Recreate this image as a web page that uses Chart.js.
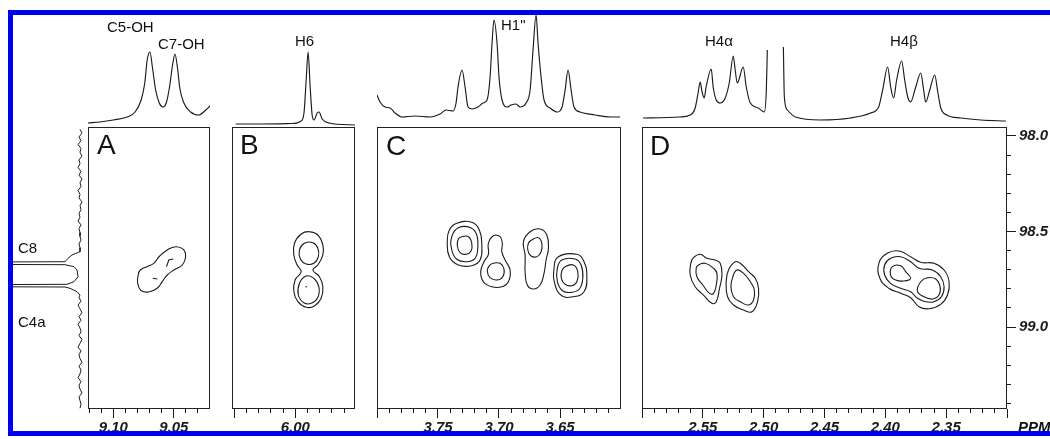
<!DOCTYPE html>
<html lang="en">
<head>
<meta charset="UTF-8">
<title>HMBC C8 / C4a</title>
<script src="https://cdn.jsdelivr.net/npm/chart.js"></script>
<style>
  body { margin: 0; background: #fff; width: 1050px; height: 439px; overflow: hidden; position: relative;
         font-family: "Liberation Sans", Arial, sans-serif; color: #111; }
  canvas { position: absolute; }
  .lbl { position: absolute; font-size: 15px; line-height: 15px; white-space: nowrap; }
  .pan { position: absolute; font-size: 28px; line-height: 28px; }
  .ppm { position: absolute; font: italic bold 15px/15px "Liberation Sans", Arial, sans-serif; }
  #frame { position: absolute; left: 8px; top: 10px; width: 1100px; height: 416px; border: 5px solid #0000f0; }
</style>
</head>
<body>
<canvas id="topA" width="122" height="127" style="left:88px;top:0"></canvas>
<canvas id="topB" width="123" height="127" style="left:232px;top:0"></canvas>
<canvas id="topC" width="244" height="127" style="left:377px;top:0"></canvas>
<canvas id="topD" width="365" height="127" style="left:642px;top:0"></canvas>
<canvas id="c13" width="75" height="282" style="left:13px;top:127px"></canvas>
<canvas id="panA" width="122" height="312" style="left:88px;top:127px"></canvas>
<canvas id="panB" width="123" height="312" style="left:232px;top:127px"></canvas>
<canvas id="panC" width="244" height="312" style="left:377px;top:127px"></canvas>
<canvas id="panD" width="425" height="312" style="left:642px;top:127px"></canvas>

<div class="lbl" style="left:107px;top:19px">C5-OH</div>
<div class="lbl" style="left:158px;top:36px">C7-OH</div>
<div class="lbl" style="left:295px;top:33px">H6</div>
<div class="lbl" style="left:501px;top:17px">H1"</div>
<div class="lbl" style="left:705px;top:33px">H4&alpha;</div>
<div class="lbl" style="left:890px;top:33px">H4&beta;</div>
<div class="lbl" style="left:18px;top:240px">C8</div>
<div class="lbl" style="left:18px;top:314px">C4a</div>
<div class="pan" style="left:97px;top:131px">A</div>
<div class="pan" style="left:240px;top:131px">B</div>
<div class="pan" style="left:386px;top:132px">C</div>
<div class="pan" style="left:650px;top:132px">D</div>
<div class="ppm" style="left:1018px;top:419px">PPM</div>
<div id="frame"></div>

<script>
// ---- 1H traces on top (ppm, intensity) ----
const hA_ppm = [9.121, 9.111, 9.100, 9.0885, 9.082, 9.077, 9.074, 9.072, 9.0697, 9.0677, 9.065, 9.062, 9.059, 9.056, 9.0535, 9.051, 9.049, 9.047, 9.045, 9.042, 9.036, 9.0293, 9.0235, 9.020];
const hA_int = [4, 5, 7, 10, 15, 27, 44, 67, 75, 60, 37, 24, 20, 25, 40, 62, 73, 60, 39, 25, 15, 12, 17, 21];

const hB_ppm = [6.049, 6.028, 6.0034, 5.9952, 5.9928, 5.9911, 5.9895, 5.9879, 5.9862, 5.9846, 5.9821, 5.9805, 5.978, 5.9723, 5.951];
const hB_int = [3, 3, 3.5, 6, 15, 47, 75, 42, 12, 7, 14, 15, 8, 4, 2];

const hC_ppm = [3.800, 3.7975, 3.7934, 3.7893, 3.7852, 3.7795, 3.7688, 3.7565, 3.7483, 3.7434, 3.7377, 3.7352, 3.7336, 3.7303, 3.7278, 3.7254, 3.7221, 3.7172, 3.7131, 3.7098, 3.7073, 3.7057, 3.7041, 3.7016, 3.7000, 3.6975, 3.6934, 3.6901, 3.6860, 3.6827, 3.6778, 3.6745, 3.6721, 3.6696, 3.6680, 3.6655, 3.6631, 3.6581, 3.6524, 3.6483, 3.6458, 3.6434, 3.6409, 3.6385, 3.6335, 3.6212, 3.6089, 3.6007];
const hC_int = [32, 25, 20, 19, 14, 10, 11, 10, 13, 17, 16, 24, 40, 57, 40, 20, 18, 20, 24, 27, 50, 84, 107, 84, 50, 27, 20, 22, 23, 20, 24, 37, 77, 112, 84, 50, 27, 19, 15, 20, 37, 57, 37, 20, 15, 12, 10, 10];

// solvent line near 2.49 is cut off (null = gap)
const hD_ppm = [2.5992, 2.5687, 2.5604, 2.5563, 2.5539, 2.5522, 2.5506, 2.5489, 2.5473, 2.5431, 2.5415, 2.5390, 2.5357, 2.5316, 2.5283, 2.5250, 2.5234, 2.5217, 2.5168, 2.5143, 2.5110, 2.5044, 2.4995, 2.4978, 2.4970, 2.490, 2.4838, 2.4830, 2.4805, 2.4739, 2.4533, 2.4286, 2.4121, 2.4055, 2.4022, 2.3981, 2.3956, 2.3932, 2.3907, 2.3866, 2.3841, 2.3816, 2.3792, 2.3750, 2.3709, 2.3685, 2.3668, 2.3635, 2.3594, 2.3569, 2.3544, 2.3495, 2.3380, 2.3215, 2.3009];
const hD_int = [9, 10, 12, 19, 34, 45, 35, 29, 40, 58, 40, 27, 24, 29, 44, 71, 57, 44, 60, 40, 24, 19, 15, 37, 77, null, 80, 30, 17, 10, 7, 9, 14, 20, 37, 60, 40, 29, 47, 66, 47, 30, 25, 40, 54, 37, 25, 37, 52, 35, 19, 12, 9, 7, 6];

// ---- 13C projection on the left (ppm, intensity) ----
const c13_ppm = [97.965, 97.985, 98.005, 98.025, 98.045, 98.065, 98.085, 98.105, 98.125, 98.145, 98.165, 98.185, 98.205, 98.225, 98.245, 98.265, 98.285, 98.305, 98.325, 98.345, 98.365, 98.385, 98.405, 98.425, 98.445, 98.465, 98.485, 98.505, 98.525, 98.545, 98.565, 98.585,
  98.6057, 98.623, 98.6403, 98.6581, 98.6664, 98.6737, 98.6842, 98.7015, 98.7366, 98.7628, 98.7764, 98.7837, 98.7905, 98.7973, 98.8151, 98.8324,
  98.845, 98.865, 98.885, 98.905, 98.925, 98.945, 98.965, 98.985, 99.005, 99.025, 99.045, 99.065, 99.085, 99.105, 99.125, 99.145, 99.165, 99.185, 99.205, 99.225, 99.245, 99.265, 99.285, 99.305, 99.325, 99.345, 99.365, 99.385, 99.405, 99.425];
const c13_int = [8, 6, 9, 7, 10, 7, 8, 6, 9, 8, 10, 7, 9, 6, 8, 7, 10, 8, 9, 6, 8, 7, 9, 8, 10, 7, 9, 8, 8, 7, 9, 8,
  8, 16, 20, 23, 400, 23, 14, 11, 10, 14, 21, 400, 23, 18, 11, 8,
  9, 7, 10, 8, 6, 9, 7, 10, 8, 7, 9, 6, 8, 10, 7, 9, 8, 6, 9, 7, 8, 10, 7, 9, 8, 6, 9, 8, 7, 8];

// ---- contour levels, [1H ppm, 13C ppm] ----
const contoursA = [
  [[9.0777, 98.7015], [9.0721, 98.6842], [9.0666, 98.6664], [9.0616, 98.6282], [9.0554, 98.5967], [9.0485, 98.5795], [9.0421, 98.5931], [9.0402, 98.6318], [9.0429, 98.6753], [9.0499, 98.7015], [9.0554, 98.7276], [9.0596, 98.7627], [9.0637, 98.7973], [9.0707, 98.8166], [9.0771, 98.8088], [9.0799, 98.7711], [9.0796, 98.7329]]
];
const marksA = [
  [[9.056, 98.684], [9.0541, 98.649], [9.0504, 98.644]],
  [[9.0674, 98.745], [9.0637, 98.749]]
];

const contoursB = [
  [[5.9884, 98.5009], [5.9815, 98.5182], [5.9774, 98.5706], [5.9774, 98.6229], [5.9815, 98.6753], [5.9856, 98.7015], [5.9802, 98.7365], [5.9774, 98.7889], [5.9788, 98.8496], [5.9843, 98.8899], [5.9911, 98.8967], [5.9979, 98.8674], [6.0012, 98.8151], [6.0002, 98.7538], [5.9952, 98.7104], [5.9985, 98.6753], [6.0012, 98.6229], [6.0007, 98.5617], [5.9952, 98.5130]],
  [[5.9925, 98.5617], [5.9856, 98.5585], [5.9815, 98.5878], [5.9811, 98.6318], [5.9848, 98.6664], [5.9911, 98.6700], [5.9958, 98.6454], [5.9966, 98.5967]],
  [[5.9911, 98.7329], [5.9848, 98.7449], [5.9807, 98.7889], [5.9815, 98.8444], [5.9870, 98.8758], [5.9930, 98.8727], [5.9975, 98.8323], [5.9966, 98.7711]]
];
const marksB = [
  [[5.9911, 98.7889]]
];

const contoursC = [
  [[3.7346, 98.4570], [3.7223, 98.4518], [3.7161, 98.4921], [3.7141, 98.5706], [3.7155, 98.6492], [3.7223, 98.6790], [3.7333, 98.6753], [3.7407, 98.6319], [3.7424, 98.5533], [3.7407, 98.4921]],
  [[3.7333, 98.4800], [3.7232, 98.4800], [3.7182, 98.5183], [3.7174, 98.5879], [3.7196, 98.6403], [3.7264, 98.6581], [3.7346, 98.6455], [3.7387, 98.5968], [3.7387, 98.5272]],
  [[3.7305, 98.5272], [3.7251, 98.5272], [3.7223, 98.5617], [3.7229, 98.6020], [3.7270, 98.6193], [3.7319, 98.6109], [3.7342, 98.5743], [3.7333, 98.5392]],
  [[3.7046, 98.5219], [3.6991, 98.5272], [3.6973, 98.5617], [3.6977, 98.6057], [3.6950, 98.6492], [3.6909, 98.7015], [3.6923, 98.7628], [3.6977, 98.7890], [3.7059, 98.7890], [3.7128, 98.7628], [3.7150, 98.7104], [3.7123, 98.6581], [3.7087, 98.6193], [3.7087, 98.5617]],
  [[3.7046, 98.6664], [3.6991, 98.6664], [3.6959, 98.6963], [3.6969, 98.7366], [3.7018, 98.7539], [3.7073, 98.7418], [3.7096, 98.7067], [3.7079, 98.6790]],
  [[3.6745, 98.5010], [3.6663, 98.4868], [3.6608, 98.5183], [3.6595, 98.5879], [3.6614, 98.6492], [3.6631, 98.7188], [3.6663, 98.7801], [3.6718, 98.8010], [3.6768, 98.7801], [3.6786, 98.7104], [3.6786, 98.6230], [3.6800, 98.5533]],
  [[3.6731, 98.5444], [3.6677, 98.5324], [3.6649, 98.5617], [3.6655, 98.6057], [3.6690, 98.6319], [3.6740, 98.6266], [3.6764, 98.5968], [3.6759, 98.5617]],
  [[3.6513, 98.6319], [3.6362, 98.6193], [3.6303, 98.6581], [3.6280, 98.7366], [3.6303, 98.8151], [3.6390, 98.8413], [3.6485, 98.8361], [3.6540, 98.7801], [3.6549, 98.6926]],
  [[3.6485, 98.6492], [3.6376, 98.6439], [3.6327, 98.6753], [3.6313, 98.7450], [3.6341, 98.8010], [3.6403, 98.8183], [3.6477, 98.8115], [3.6522, 98.7628], [3.6522, 98.6926]],
  [[3.6458, 98.6842], [3.6390, 98.6753], [3.6354, 98.7104], [3.6362, 98.7628], [3.6403, 98.7837], [3.6458, 98.7764], [3.6489, 98.7450], [3.6485, 98.7067]]
];

const contoursD = [
  [[2.5577, 98.6371], [2.5522, 98.6193], [2.5467, 98.6403], [2.5399, 98.6492], [2.5357, 98.6664], [2.5343, 98.7277], [2.5363, 98.7973], [2.5390, 98.8675], [2.5426, 98.8759], [2.5495, 98.8324], [2.5563, 98.7890], [2.5604, 98.7277], [2.5599, 98.6664]],
  [[2.5536, 98.6753], [2.5481, 98.6664], [2.5412, 98.6926], [2.5384, 98.7188], [2.5390, 98.7801], [2.5412, 98.8235], [2.5445, 98.8235], [2.5500, 98.7801], [2.5549, 98.7366], [2.5555, 98.6926]],
  [[2.5234, 98.6581], [2.5192, 98.6664], [2.5124, 98.7104], [2.5069, 98.7450], [2.5042, 98.7973], [2.5050, 98.8675], [2.5096, 98.9199], [2.5165, 98.9110], [2.5248, 98.8848], [2.5297, 98.8413], [2.5308, 98.7628], [2.5289, 98.7015]],
  [[2.5220, 98.7015], [2.5165, 98.7188], [2.5110, 98.7628], [2.5077, 98.8062], [2.5083, 98.8586], [2.5124, 98.8848], [2.5192, 98.8675], [2.5248, 98.8413], [2.5269, 98.7890], [2.5253, 98.7366]],
  [[2.3984, 98.6141], [2.3888, 98.6020], [2.3792, 98.6319], [2.3709, 98.6612], [2.3600, 98.6664], [2.3517, 98.7015], [2.3476, 98.7628], [2.3489, 98.8324], [2.3545, 98.8811], [2.3641, 98.9041], [2.3723, 98.8937], [2.3792, 98.8465], [2.3874, 98.8235], [2.3971, 98.7973], [2.4045, 98.7450], [2.4053, 98.6664]],
  [[2.3957, 98.6403], [2.3874, 98.6319], [2.3792, 98.6581], [2.3723, 98.6926], [2.3613, 98.7015], [2.3545, 98.7366], [2.3517, 98.7890], [2.3539, 98.8413], [2.3600, 98.8675], [2.3668, 98.8675], [2.3736, 98.8497], [2.3792, 98.8151], [2.3874, 98.7973], [2.3957, 98.7712], [2.4006, 98.7277], [2.4006, 98.6753]],
  [[2.3942, 98.6842], [2.3874, 98.6790], [2.3833, 98.7104], [2.3792, 98.7450], [2.3847, 98.7591], [2.3915, 98.7539], [2.3957, 98.7277]],
  [[2.3709, 98.7628], [2.3654, 98.7418], [2.3586, 98.7486], [2.3550, 98.7890], [2.3559, 98.8324], [2.3613, 98.8534], [2.3682, 98.8413], [2.3736, 98.8115]]
];

// axis ranges (ppm)
const rangeA = [9.020, 9.121];
const rangeB = [5.951, 6.052];
const rangeC = [3.60, 3.80];
const rangeD = [2.30, 2.60];
const range13C = [97.953, 99.429];

const INK = '#1b1b1b';
Chart.defaults.font.family = '"Liberation Sans", Arial, sans-serif';
Chart.defaults.color = INK;

const isMajor = (v, step) => Math.abs(v / step - Math.round(v / step)) < 1e-3;
const zeroPad = (s) => { s.paddingLeft = 0; s.paddingRight = 0; s.paddingTop = 0; s.paddingBottom = 0; };
const tickFont = { size: 15, style: 'italic', weight: 'bold' };

const boxPlugin = {
  id: 'box',
  afterDatasetsDraw(chart) {
    const a = chart.chartArea, ctx = chart.ctx;
    ctx.save();
    ctx.strokeStyle = '#222';
    ctx.lineWidth = 1;
    ctx.strokeRect(a.left + 0.5, a.top + 0.5, a.width - 1, a.height - 1);
    ctx.restore();
  }
};

// contours are closed curves
const loopPlugin = {
  id: 'loops',
  afterDatasetUpdate(chart, args) {
    const ds = chart.data.datasets[args.index];
    const line = args.meta.dataset;
    if (ds.closed && line) {
      line._loop = true;
      line._fullLoop = true;
      delete line._segments;
      line._pointsUpdated = false;
      line._path = undefined;
    }
  }
};

const baseOpts = {
  responsive: false,
  animation: false,
  events: [],
  layout: { padding: 0, autoPadding: false },
  plugins: { legend: { display: false }, tooltip: { enabled: false } }
};

function trace(id, ppm, inten, range) {
  new Chart(document.getElementById(id), {
    type: 'line',
    data: {
      datasets: [{
        data: ppm.map((x, i) => ({ x: x, y: inten[i] })),
        borderColor: INK, borderWidth: 1.15, pointRadius: 0,
        borderJoinStyle: 'round', cubicInterpolationMode: 'monotone'
      }]
    },
    options: Object.assign({}, baseOpts, {
      scales: {
        x: { type: 'linear', min: range[0], max: range[1], reverse: true, display: false },
        y: { type: 'linear', min: 0, max: 127, display: false }
      }
    })
  });
}

function panel(id, contours, marks, range, rightAxis) {
  const datasets = contours.map(c => ({
    data: c.map(p => ({ x: p[0], y: p[1] })),
    closed: true, borderColor: INK, borderWidth: 1.1, pointRadius: 0, tension: 0.45
  }));
  marks.forEach(m => datasets.push({
    data: m.map(p => ({ x: p[0], y: p[1] })),
    borderColor: INK, borderWidth: 1.1, tension: 0,
    pointRadius: m.length === 1 ? 0.8 : 0, pointHoverRadius: 0,
    pointBackgroundColor: INK, pointBorderWidth: 0
  }));
  const canvas = document.getElementById(id);
  new Chart(canvas, {
    type: 'line',
    data: { datasets },
    options: Object.assign({}, baseOpts, {
      scales: {
        x: {
          type: 'linear', min: range[0], max: range[1], reverse: true,
          afterFit: s => { zeroPad(s); s.height = 30; },
          border: { display: false },
          grid: {
            drawOnChartArea: false, tickLength: 9, tickColor: INK, tickWidth: 1,
            tickBorderDash: c => (c.tick && isMajor(c.tick.value, 0.05)) ? [] : [4, 40]
          },
          ticks: {
            stepSize: 0.01, autoSkip: false, maxRotation: 0, includeBounds: false,
            padding: 1, color: INK, font: tickFont,
            callback: (v, i, t) => (i === 0 || i === t.length - 1 || !isMajor(v, 0.05)) ? '' : v.toFixed(2)
          }
        },
        y: {
          type: 'linear', min: range13C[0], max: range13C[1], reverse: true,
          display: rightAxis, position: 'right',
          afterFit: s => { zeroPad(s); s.width = canvas.width - 365; },
          border: { display: false },
          grid: {
            drawOnChartArea: false, tickLength: 9, tickColor: INK, tickWidth: 1,
            tickBorderDash: c => (c.tick && isMajor(c.tick.value, 0.5)) ? [] : [4, 40]
          },
          ticks: {
            stepSize: 0.1, autoSkip: false, includeBounds: false, padding: 3, color: INK, font: tickFont,
            callback: v => isMajor(v, 0.5) ? v.toFixed(1) : ''
          }
        }
      }
    }),
    plugins: [boxPlugin, loopPlugin]
  });
}

trace('topA', hA_ppm, hA_int, rangeA);
trace('topB', hB_ppm, hB_int, rangeB);
trace('topC', hC_ppm, hC_int, rangeC);
trace('topD', hD_ppm, hD_int, rangeD);

// 13C trace, drawn sideways: intensity grows to the left
new Chart(document.getElementById('c13'), {
  type: 'line',
  data: {
    datasets: [{
      data: c13_ppm.map((y, i) => ({ x: c13_int[i], y: y })),
      borderColor: INK, borderWidth: 1, pointRadius: 0, tension: 0
    }]
  },
  options: Object.assign({}, baseOpts, {
    scales: {
      x: { type: 'linear', min: 0, max: 75, reverse: true, display: false },
      y: { type: 'linear', min: range13C[0], max: range13C[1], reverse: true, display: false }
    }
  })
});

panel('panA', contoursA, marksA, rangeA, false);
panel('panB', contoursB, marksB, rangeB, false);
panel('panC', contoursC, [], rangeC, false);
panel('panD', contoursD, [], rangeD, true);
</script>
</body>
</html>
